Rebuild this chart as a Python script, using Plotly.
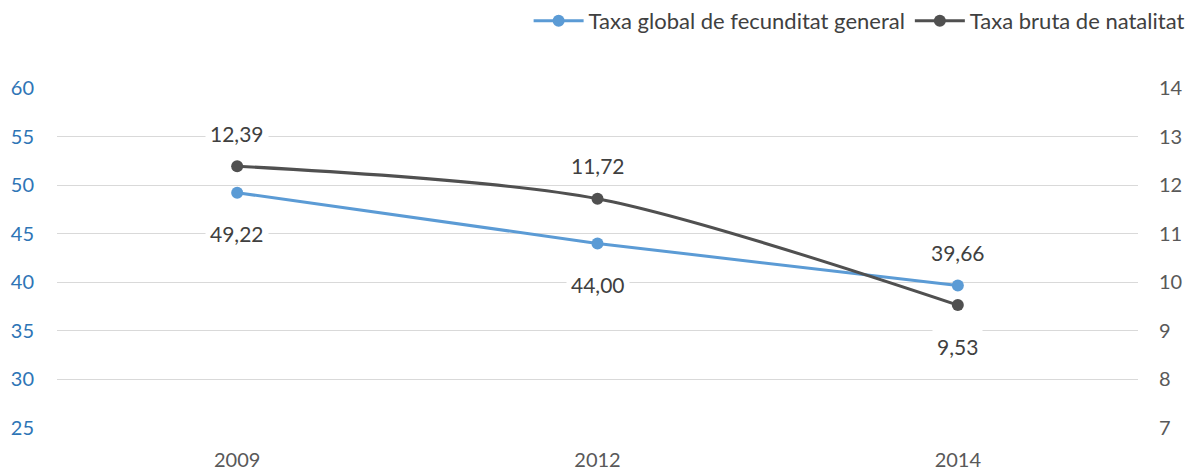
import plotly.graph_objects as go

# Dades
anys = ["2009", "2012", "2014"]
fecunditat = [49.22, 44.00, 39.66]
natalitat = [12.39, 11.72, 9.53]
fecunditat_txt = ["49,22", "44,00", "39,66"]
natalitat_txt = ["12,39", "11,72", "9,53"]

# posició de les etiquetes (1 = a dalt, -1 = a baix)
pos_fec = [-1, -1, 1]
pos_nat = [1, 1, -1]

BLUE = "#5B9BD5"
GREY = "#505050"
FONT = "Lato, 'Open Sans', sans-serif"

fig = go.Figure()

fig.add_trace(go.Scatter(
    x=anys, y=fecunditat, mode="lines+markers", name="Taxa global de fecunditat general",
    line=dict(color=BLUE, width=3), marker=dict(size=12, color=BLUE)))
fig.add_trace(go.Scatter(
    x=anys, y=natalitat, mode="lines+markers", name="Taxa bruta de natalitat", yaxis="y2",
    line=dict(color=GREY, width=3, shape="spline", smoothing=0.8), marker=dict(size=12, color=GREY)))

for i, (y, t, p) in enumerate(zip(fecunditat, fecunditat_txt, pos_fec)):
    fig.add_annotation(x=i, y=y, xref="x", yref="y", text=t, showarrow=False, bgcolor="white",
                       borderpad=4, yshift=33 if p > 0 else -41,
                       font=dict(size=21, color="#404040", family=FONT))
for i, (y, t, p) in enumerate(zip(natalitat, natalitat_txt, pos_nat)):
    fig.add_annotation(x=i, y=y, xref="x", yref="y2", text=t, showarrow=False, bgcolor="white",
                       borderpad=4, yshift=33 if p > 0 else -41,
                       font=dict(size=21, color="#404040", family=FONT))

fig.update_layout(
    width=1192, height=470, template="plotly_white",
    paper_bgcolor="white", plot_bgcolor="white",
    margin=dict(l=57, r=54, t=88, b=42, autoexpand=False),
    font=dict(family=FONT, size=20, color="#595959"),
    showlegend=True,
    legend=dict(orientation="h", x=0.998, xref="container", xanchor="right",
                y=1.0, yref="container", yanchor="top",
                font=dict(size=22, color="#404040"), itemwidth=50, tracegroupgap=0,
                entrywidth=0),
    xaxis=dict(type="category", range=[-0.5, 2.5], showgrid=False, zeroline=False,
               showline=False, ticklabelstandoff=18, tickfont=dict(size=20, color="#595959")),
    yaxis=dict(range=[25, 60], dtick=5, showgrid=True, gridcolor="#D9D9D9", gridwidth=1,
               zeroline=False, showline=False, ticklabelstandoff=22, automargin=False,
               tickfont=dict(size=20, color="#2E75B6")),
    yaxis2=dict(range=[7, 14], dtick=1, overlaying="y", side="right", showgrid=False,
                zeroline=False, showline=False, ticklabelstandoff=20, automargin=False,
                tickfont=dict(size=20, color="#595959")),
)

fig.write_html("out.html", config={"displayModeBar": False},
               post_script="document.body.style.margin='0';")
